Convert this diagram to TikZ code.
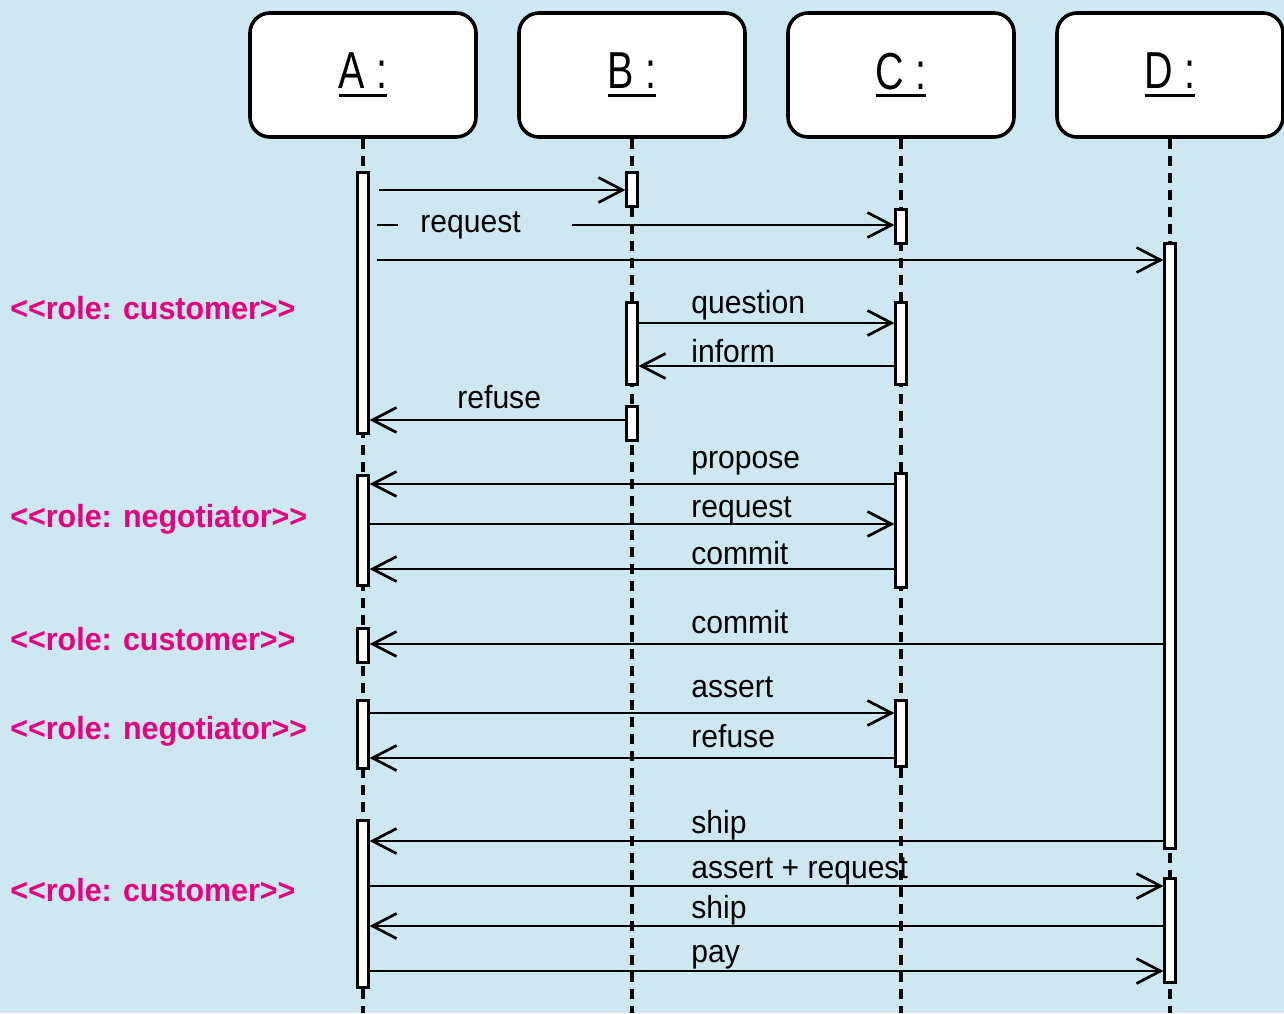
\documentclass[tikz,border=0pt]{standalone}
\usepackage{fontspec}
\setmainfont[FakeStretch=0.94]{Liberation Sans}
\newfontfamily\headfont[FakeStretch=0.76]{Liberation Sans}
\newfontfamily\rolefont[FakeStretch=0.95]{Liberation Sans}
\usetikzlibrary{arrows.meta,calc}
\usepackage{xcolor}
\definecolor{bgblue}{RGB}{205,232,241}
\definecolor{rolepink}{RGB}{232,0,128}
\newcommand{\objname}[1]{\setbox0\hbox{#1}\rlap{\rule[-4pt]{\wd0}{1.5pt}}\box0}
\pgfkeys{tikz/actbar/.style={draw,fill=white,line width=1.4pt,minimum width=5.2pt,inner sep=0pt,anchor=north}}
\pgfkeys{tikz/msg/.style={line width=1.35pt,-{Straight Barb[length=12pt,width=12.5pt]}}}

\begin{document}
\begin{tikzpicture}[x=0.5pt,y=-0.5pt,
  every node/.style={font=\fontsize{16pt}{19pt}\selectfont},
  obj/.style={draw,fill=white,rounded corners=10pt,line width=1.8pt,
    minimum width=113pt,minimum height=62pt,
    font=\headfont\fontsize{26pt}{30pt}\selectfont},
  life/.style={line width=1.6pt,dash pattern=on 5pt off 3.5pt},
  lbl/.style={anchor=base west,inner sep=0pt},
  role/.style={anchor=base west,inner sep=0pt,text=rolepink,
    font=\rolefont\bfseries\fontsize{16pt}{19pt}\selectfont}
  ]
  \fill[bgblue,use as bounding box] (0,0) rectangle (1284,1013);

  \node[obj] (A) at (363,75) {\objname{A :}};
  \node[obj] (B) at (632,75) {\objname{B :}};
  \node[obj] (C) at (901,75) {\objname{C :}};
  \node[obj] (D) at (1170,75) {\objname{D :}};
  \foreach \n in {A,B,C,D}
    \draw[life] (\n.south) -- (\n.south |- 0,1013);

  \node[actbar,minimum height=130.5pt] (a1) at (363,171) {};
  \node[actbar,minimum height=55pt] (a2) at (363,474) {};
  \node[actbar,minimum height=17pt] (a3) at (363,627) {};
  \node[actbar,minimum height=34pt] (a4) at (363,699) {};
  \node[actbar,minimum height=83.5pt] (a5) at (363,819) {};
  \node[actbar,minimum height=17pt] (b1) at (632,171) {};
  \node[actbar,minimum height=41pt] (b2) at (632,301) {};
  \node[actbar,minimum height=17pt] (b3) at (632,405) {};
  \node[actbar,minimum height=17pt] (c1) at (901,208) {};
  \node[actbar,minimum height=41pt] (c2) at (901,301) {};
  \node[actbar,minimum height=57pt] (c3) at (901,472) {};
  \node[actbar,minimum height=33pt] (c4) at (901,699) {};
  \node[actbar,minimum height=302.5pt] (d1) at (1170,242) {};
  \node[actbar,minimum height=52pt] (d2) at (1170,877) {};

  \draw[msg] ($(a1.east |- 0,190)+(9,0)$) -- (b1.west |- 0,190);
  \draw[msg] ($(a1.east |- 0,225)+(7,0)$) -- (c1.west |- 0,225);
  \node[lbl,anchor=west,fill=bgblue,text width=65pt,inner xsep=11pt,inner ysep=2pt] (t2) at (398,225) {request};
  \draw[msg] ($(a1.east |- 0,260)+(7,0)$) -- (d1.west |- 0,260);
  \draw[msg] (b2.east |- 0,323) -- (c2.west |- 0,323);
  \draw[msg] (c2.west |- 0,366) -- (b2.east |- 0,366);
  \draw[msg] (b3.west |- 0,420) -- (a1.east |- 0,420);
  \draw[msg] (c3.west |- 0,484) -- (a2.east |- 0,484);
  \draw[msg] (a2.east |- 0,524) -- (c3.west |- 0,524);
  \draw[msg] (c3.west |- 0,569) -- (a2.east |- 0,569);
  \draw[msg] (d1.west |- 0,644) -- (a3.east |- 0,644);
  \draw[msg] (a4.east |- 0,713) -- (c4.west |- 0,713);
  \draw[msg] (c4.west |- 0,758) -- (a4.east |- 0,758);
  \draw[msg] (d1.west |- 0,841) -- (a5.east |- 0,841);
  \draw[msg] (a5.east |- 0,886) -- (d2.west |- 0,886);
  \draw[msg] (d2.west |- 0,926) -- (a5.east |- 0,926);
  \draw[msg] (a5.east |- 0,971) -- (d2.west |- 0,971);

  \node[lbl] (t4) at (691,313) {question};
  \node[lbl] (t5) at (691,362) {inform};
  \node[lbl] (t6) at (457,408) {refuse};
  \node[lbl] (t7) at (691,468) {propose};
  \node[lbl] (t8) at (691,517) {request};
  \node[lbl] (t9) at (691,564) {commit};
  \node[lbl] (t10) at (691,633) {commit};
  \node[lbl] (t11) at (691,697) {assert};
  \node[lbl] (t12) at (691,747) {refuse};
  \node[lbl] (t13) at (691,833) {ship};
  \node[lbl] (t14) at (691,878) {assert + request};
  \node[lbl] (t15) at (691,918) {ship};
  \node[lbl] (t16) at (691,962) {pay};

  \node[role] (r1) at (10,319) {<<role: customer>>};
  \node[role] (r2) at (10,527) {<<role: negotiator>>};
  \node[role] (r3) at (10,650) {<<role: customer>>};
  \node[role] (r4) at (10,739) {<<role: negotiator>>};
  \node[role] (r5) at (10,901) {<<role: customer>>};
\end{tikzpicture}
\end{document}
